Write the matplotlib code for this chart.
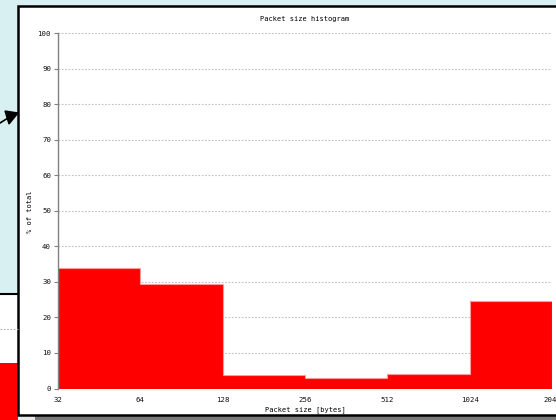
import numpy as np
import matplotlib.pyplot as plt
from matplotlib.patches import Rectangle

# packet size buckets (bytes) and share of packets per bucket (%)
bin_edges = [32, 64, 128, 256, 512, 1024, 2048]
share = [34.0, 29.3, 3.9, 3.0, 4.2, 24.5]
tick_labels = ["32", "64", "128", "256", "512", "1024", "2048"]

W, H = 556, 420
fig = plt.figure(figsize=(W / 100, H / 100), dpi=100)
fig.patch.set_facecolor("#d8f0f1")


def box(x0, y0, x1, y1, **kw):
    # rectangle in screen pixels, y measured from the top
    fig.add_artist(Rectangle((x0 / W, 1 - y1 / H), (x1 - x0) / W, (y1 - y0) / H,
                             transform=fig.transFigure, zorder=-10, **kw))


def hline(x0, x1, y, **kw):
    fig.add_artist(plt.Line2D([x0 / W, x1 / W], [1 - y / H, 1 - y / H],
                              transform=fig.transFigure, zorder=-9, **kw))


# window behind, lower left
box(0, 293, 18, 420, facecolor="white", edgecolor="none")
hline(0, 18, 293.5, color="black", lw=1.5)
hline(0, 18, 329, color="#b0b0b0", lw=0.8, ls=(0, (1.5, 1.5)))
box(0, 363, 18, 420, facecolor="#ff0000", edgecolor="none")

# taskbar strip
box(19, 415, W, 420, facecolor="#7a7a7a", edgecolor="none")
box(19, 415, 35, 420, facecolor="#e8e8e8", edgecolor="none")

# main window
box(18, 6, W + 5, 415, facecolor="white", edgecolor="black", lw=1.8)

# arrow pointing at the window
fig.add_artist(plt.Line2D([0, 8 / W], [1 - 123 / H, 1 - 118 / H], transform=fig.transFigure,
                          color="black", lw=1.2))
fig.add_artist(plt.Polygon([[18 / W, 1 - 113 / H], [5 / W, 1 - 111 / H], [9 / W, 1 - 124 / H]],
                           transform=fig.transFigure, color="black"))

ax = fig.add_axes([58 / W, (H - 388.5) / H, (552 - 58) / W, (388.5 - 33.3) / H])
ax.set_facecolor("white")
ax.set_xscale("log", base=2)

# filled histogram with a light outline along the steps only
ax.stairs(share, bin_edges, fill=True, color="#ff0000", zorder=2)
ax.stairs(share, bin_edges, color="#ff9a9a", linewidth=0.8, zorder=2.5)

ax.set_xlim(bin_edges[0], bin_edges[-1])
ax.set_ylim(0, 100)
ax.set_yticks(range(0, 101, 10))
ax.set_xticks(bin_edges)
ax.set_xticklabels(tick_labels)
ax.minorticks_off()

mono = "DejaVu Sans Mono"
for lab in ax.get_xticklabels() + ax.get_yticklabels():
    lab.set_fontfamily(mono)
    lab.set_fontsize(5.3)
    lab.set_color("#101010")
ax.tick_params(axis="x", length=0, pad=6)
ax.tick_params(axis="y", length=3, width=0.8, color="#808080", pad=2)

ax.yaxis.grid(True, color="#c0c0c0", linestyle=(0, (1.5, 1.5)), linewidth=0.8, zorder=1)
ax.set_axisbelow(True)
for side in ["top", "right", "bottom"]:
    ax.spines[side].set_visible(False)
ax.spines["left"].set_color("#808080")
ax.spines["left"].set_linewidth(1.0)
ax.spines["left"].set_zorder(3)

fig.text(305 / W, 1 - 19 / H, "Packet size histogram", ha="center", va="center",
         fontfamily=mono, fontsize=5.0, color="black")
fig.text(305 / W, 1 - 410 / H, "Packet size [bytes]", ha="center", va="center",
         fontfamily=mono, fontsize=5.0, color="black")
fig.text(30 / W, 1 - 212 / H, "% of total", ha="center", va="center", rotation=90,
         fontfamily=mono, fontsize=5.0, color="black")

fig.savefig("out.png", dpi=100)
